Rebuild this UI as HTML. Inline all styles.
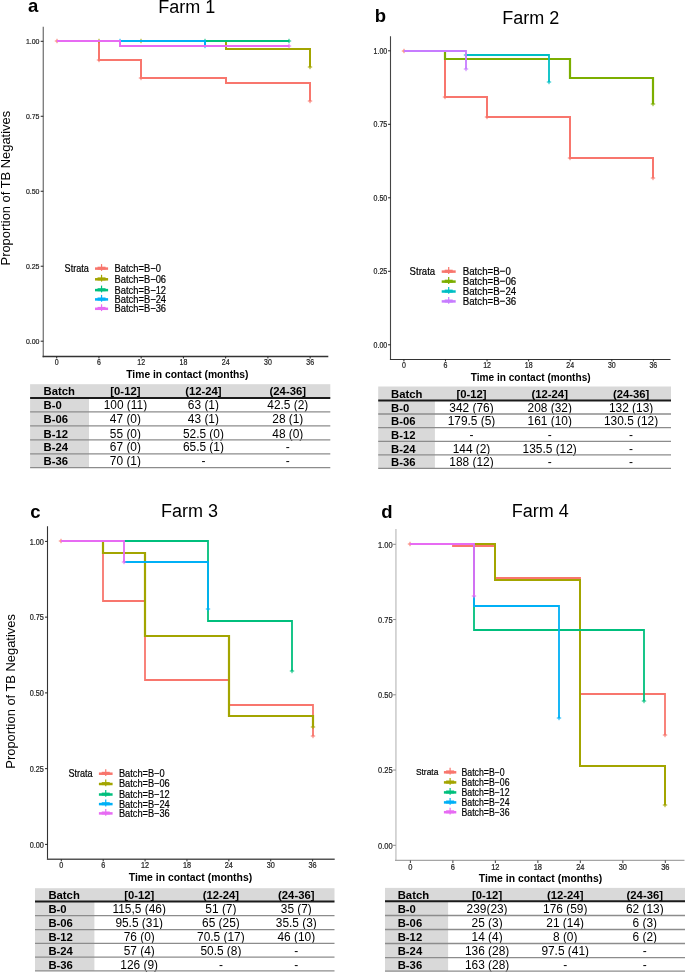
<!DOCTYPE html>
<html><head><meta charset="utf-8"><title>Figure</title>
<style>
html,body{margin:0;padding:0;background:#fff;}
body{width:685px;height:972px;overflow:hidden;}
svg{display:block;font-family:"Liberation Sans", sans-serif;will-change:transform;}
</style></head><body>
<svg width="685" height="972" viewBox="0 0 685 972">
<rect width="685" height="972" fill="#fff"/>
<text x="28" y="12.3" font-size="18.5" text-anchor="start" font-weight="bold" fill="#000">a</text>
<text x="186.7" y="12.8" font-size="18" text-anchor="middle" font-weight="normal" fill="#000">Farm 1</text>
<line x1="43.3" y1="26.7" x2="43.3" y2="357.15" stroke="#808080" stroke-width="1.4"/>
<line x1="42.6" y1="356.5" x2="328.3" y2="356.5" stroke="#333" stroke-width="1.3"/>
<line x1="40.7" y1="41.3" x2="43.3" y2="41.3" stroke="#222" stroke-width="1"/>
<text transform="translate(39.5 44.06) scale(1 1.1)" font-size="7" text-anchor="end" font-weight="normal" fill="#333" stroke="currentColor" stroke-width="0.18">1.00</text>
<line x1="40.7" y1="116.27" x2="43.3" y2="116.27" stroke="#222" stroke-width="1"/>
<text transform="translate(39.5 119.03) scale(1 1.1)" font-size="7" text-anchor="end" font-weight="normal" fill="#333" stroke="currentColor" stroke-width="0.18">0.75</text>
<line x1="40.7" y1="191.25" x2="43.3" y2="191.25" stroke="#222" stroke-width="1"/>
<text transform="translate(39.5 194.01) scale(1 1.1)" font-size="7" text-anchor="end" font-weight="normal" fill="#333" stroke="currentColor" stroke-width="0.18">0.50</text>
<line x1="40.7" y1="266.22" x2="43.3" y2="266.22" stroke="#222" stroke-width="1"/>
<text transform="translate(39.5 268.98) scale(1 1.1)" font-size="7" text-anchor="end" font-weight="normal" fill="#333" stroke="currentColor" stroke-width="0.18">0.25</text>
<line x1="40.7" y1="341.2" x2="43.3" y2="341.2" stroke="#222" stroke-width="1"/>
<text transform="translate(39.5 343.96) scale(1 1.1)" font-size="7" text-anchor="end" font-weight="normal" fill="#333" stroke="currentColor" stroke-width="0.18">0.00</text>
<line x1="56.7" y1="356.5" x2="56.7" y2="358.45" stroke="#222" stroke-width="1"/>
<text transform="translate(56.7 365) scale(1 1.22)" font-size="7" text-anchor="middle" font-weight="normal" fill="#333" stroke="currentColor" stroke-width="0.18">0</text>
<line x1="98.94" y1="356.5" x2="98.94" y2="358.45" stroke="#222" stroke-width="1"/>
<text transform="translate(98.94 365) scale(1 1.22)" font-size="7" text-anchor="middle" font-weight="normal" fill="#333" stroke="currentColor" stroke-width="0.18">6</text>
<line x1="141.18" y1="356.5" x2="141.18" y2="358.45" stroke="#222" stroke-width="1"/>
<text transform="translate(141.18 365) scale(1 1.22)" font-size="7" text-anchor="middle" font-weight="normal" fill="#333" stroke="currentColor" stroke-width="0.18">12</text>
<line x1="183.42" y1="356.5" x2="183.42" y2="358.45" stroke="#222" stroke-width="1"/>
<text transform="translate(183.42 365) scale(1 1.22)" font-size="7" text-anchor="middle" font-weight="normal" fill="#333" stroke="currentColor" stroke-width="0.18">18</text>
<line x1="225.66" y1="356.5" x2="225.66" y2="358.45" stroke="#222" stroke-width="1"/>
<text transform="translate(225.66 365) scale(1 1.22)" font-size="7" text-anchor="middle" font-weight="normal" fill="#333" stroke="currentColor" stroke-width="0.18">24</text>
<line x1="267.9" y1="356.5" x2="267.9" y2="358.45" stroke="#222" stroke-width="1"/>
<text transform="translate(267.9 365) scale(1 1.22)" font-size="7" text-anchor="middle" font-weight="normal" fill="#333" stroke="currentColor" stroke-width="0.18">30</text>
<line x1="310.14" y1="356.5" x2="310.14" y2="358.45" stroke="#222" stroke-width="1"/>
<text transform="translate(310.14 365) scale(1 1.22)" font-size="7" text-anchor="middle" font-weight="normal" fill="#333" stroke="currentColor" stroke-width="0.18">36</text>
<text x="187.4" y="378.2" font-size="10.3" text-anchor="middle" font-weight="bold" fill="#000">Time in contact (months)</text>
<text x="9.6" y="188.2" font-size="12.9" text-anchor="middle" font-weight="normal" fill="#000" transform="rotate(-90 9.6 188.2)">Proportion of TB Negatives</text>
<path d="M57 41H99V60H141V78H226V83H310V101" stroke="#F8766D" stroke-width="2" fill="none" stroke-linejoin="miter"/>
<path d="M54.8 41h4.4M57 38.8v4.4" stroke="#F8766D" stroke-width="1" fill="none"/>
<path d="M96.8 60h4.4M99 57.8v4.4" stroke="#F8766D" stroke-width="1" fill="none"/>
<path d="M138.8 78h4.4M141 75.8v4.4" stroke="#F8766D" stroke-width="1" fill="none"/>
<path d="M307.8 101h4.4M310 98.8v4.4" stroke="#F8766D" stroke-width="1" fill="none"/>
<path d="M99 41H226V49H310V67" stroke="#A3A500" stroke-width="2" fill="none" stroke-linejoin="miter"/>
<path d="M96.8 41h4.4M99 38.8v4.4" stroke="#A3A500" stroke-width="1" fill="none"/>
<path d="M138.8 41h4.4M141 38.8v4.4" stroke="#A3A500" stroke-width="1" fill="none"/>
<path d="M307.8 67h4.4M310 64.8v4.4" stroke="#A3A500" stroke-width="1" fill="none"/>
<path d="M120 41H289" stroke="#00BF7D" stroke-width="2" fill="none" stroke-linejoin="miter"/>
<path d="M202.8 41h4.4M205 38.8v4.4" stroke="#00BF7D" stroke-width="1" fill="none"/>
<path d="M286.8 41h4.4M289 38.8v4.4" stroke="#00BF7D" stroke-width="1" fill="none"/>
<path d="M120 41H205H205V46" stroke="#00B0F6" stroke-width="2" fill="none" stroke-linejoin="miter"/>
<path d="M117.8 41h4.4M120 38.8v4.4" stroke="#00B0F6" stroke-width="1" fill="none"/>
<path d="M202.8 46h4.4M205 43.8v4.4" stroke="#00B0F6" stroke-width="1" fill="none"/>
<path d="M57 41H120V46H289" stroke="#E76BF3" stroke-width="2" fill="none" stroke-linejoin="miter"/>
<path d="M286.8 46h4.4M289 43.8v4.4" stroke="#E76BF3" stroke-width="1" fill="none"/>
<text transform="translate(64.6 271.6) scale(1 1.13)" font-size="9.1" text-anchor="start" font-weight="normal" fill="#000" stroke="currentColor" stroke-width="0.18">Strata</text>
<line x1="95" y1="268.6" x2="108.1" y2="268.6" stroke="#F8766D" stroke-width="2.5"/>
<line x1="97.55" y1="268.2" x2="105.55" y2="268.2" stroke="#F8766D" stroke-width="3"/>
<line x1="101.55" y1="264.1" x2="101.55" y2="270.9" stroke="#F8766D" stroke-width="1.2"/>
<text transform="translate(114.6 272) scale(1 1.13)" font-size="9.35" text-anchor="start" font-weight="normal" fill="#000" stroke="currentColor" stroke-width="0.18">Batch=B−0</text>
<line x1="95" y1="279.3" x2="108.1" y2="279.3" stroke="#A3A500" stroke-width="2.5"/>
<line x1="97.55" y1="278.9" x2="105.55" y2="278.9" stroke="#A3A500" stroke-width="3"/>
<line x1="101.55" y1="274.8" x2="101.55" y2="281.6" stroke="#A3A500" stroke-width="1.2"/>
<text transform="translate(114.6 282.7) scale(1 1.13)" font-size="9.35" text-anchor="start" font-weight="normal" fill="#000" stroke="currentColor" stroke-width="0.18">Batch=B−06</text>
<line x1="95" y1="290.1" x2="108.1" y2="290.1" stroke="#00BF7D" stroke-width="2.5"/>
<line x1="97.55" y1="289.7" x2="105.55" y2="289.7" stroke="#00BF7D" stroke-width="3"/>
<line x1="101.55" y1="285.6" x2="101.55" y2="292.4" stroke="#00BF7D" stroke-width="1.2"/>
<text transform="translate(114.6 293.5) scale(1 1.13)" font-size="9.35" text-anchor="start" font-weight="normal" fill="#000" stroke="currentColor" stroke-width="0.18">Batch=B−12</text>
<line x1="95" y1="299.4" x2="108.1" y2="299.4" stroke="#00B0F6" stroke-width="2.5"/>
<line x1="97.55" y1="299" x2="105.55" y2="299" stroke="#00B0F6" stroke-width="3"/>
<line x1="101.55" y1="294.9" x2="101.55" y2="301.7" stroke="#00B0F6" stroke-width="1.2"/>
<text transform="translate(114.6 302.8) scale(1 1.13)" font-size="9.35" text-anchor="start" font-weight="normal" fill="#000" stroke="currentColor" stroke-width="0.18">Batch=B−24</text>
<line x1="95" y1="308.8" x2="108.1" y2="308.8" stroke="#E76BF3" stroke-width="2.5"/>
<line x1="97.55" y1="308.4" x2="105.55" y2="308.4" stroke="#E76BF3" stroke-width="3"/>
<line x1="101.55" y1="304.3" x2="101.55" y2="311.1" stroke="#E76BF3" stroke-width="1.2"/>
<text transform="translate(114.6 312.2) scale(1 1.13)" font-size="9.35" text-anchor="start" font-weight="normal" fill="#000" stroke="currentColor" stroke-width="0.18">Batch=B−36</text>
<rect x="30.1" y="384.2" width="300.2" height="13.7" fill="#d9d9d9"/>
<rect x="30.1" y="397.9" width="58.9" height="69.7" fill="#d9d9d9"/>
<text x="43.6" y="395.35" font-size="11.3" text-anchor="start" font-weight="bold" fill="#000">Batch</text>
<text x="125.4" y="395.35" font-size="11.3" text-anchor="middle" font-weight="bold" fill="#000">[0-12]</text>
<text x="203.4" y="395.35" font-size="11.3" text-anchor="middle" font-weight="bold" fill="#000">(12-24]</text>
<text x="287.8" y="395.35" font-size="11.3" text-anchor="middle" font-weight="bold" fill="#000">(24-36]</text>
<text x="43.6" y="409.45" font-size="11.3" text-anchor="start" font-weight="bold" fill="#000">B-0</text>
<text x="125.4" y="409.45" font-size="11.9" text-anchor="middle" font-weight="normal" fill="#000">100 (11)</text>
<text x="203.4" y="409.45" font-size="11.9" text-anchor="middle" font-weight="normal" fill="#000">63 (1)</text>
<text x="287.8" y="409.45" font-size="11.9" text-anchor="middle" font-weight="normal" fill="#000">42.5 (2)</text>
<text x="43.6" y="423.45" font-size="11.3" text-anchor="start" font-weight="bold" fill="#000">B-06</text>
<text x="125.4" y="423.45" font-size="11.9" text-anchor="middle" font-weight="normal" fill="#000">47 (0)</text>
<text x="203.4" y="423.45" font-size="11.9" text-anchor="middle" font-weight="normal" fill="#000">43 (1)</text>
<text x="287.8" y="423.45" font-size="11.9" text-anchor="middle" font-weight="normal" fill="#000">28 (1)</text>
<text x="43.6" y="437.5" font-size="11.3" text-anchor="start" font-weight="bold" fill="#000">B-12</text>
<text x="125.4" y="437.5" font-size="11.9" text-anchor="middle" font-weight="normal" fill="#000">55 (0)</text>
<text x="203.4" y="437.5" font-size="11.9" text-anchor="middle" font-weight="normal" fill="#000">52.5 (0)</text>
<text x="287.8" y="437.5" font-size="11.9" text-anchor="middle" font-weight="normal" fill="#000">48 (0)</text>
<text x="43.6" y="451.45" font-size="11.3" text-anchor="start" font-weight="bold" fill="#000">B-24</text>
<text x="125.4" y="451.45" font-size="11.9" text-anchor="middle" font-weight="normal" fill="#000">67 (0)</text>
<text x="203.4" y="451.45" font-size="11.9" text-anchor="middle" font-weight="normal" fill="#000">65.5 (1)</text>
<text x="287.8" y="451.45" font-size="11.9" text-anchor="middle" font-weight="normal" fill="#000">-</text>
<text x="43.6" y="465.3" font-size="11.3" text-anchor="start" font-weight="bold" fill="#000">B-36</text>
<text x="125.4" y="465.3" font-size="11.9" text-anchor="middle" font-weight="normal" fill="#000">70 (1)</text>
<text x="203.4" y="465.3" font-size="11.9" text-anchor="middle" font-weight="normal" fill="#000">-</text>
<text x="287.8" y="465.3" font-size="11.9" text-anchor="middle" font-weight="normal" fill="#000">-</text>
<line x1="30.1" y1="411.8" x2="330.3" y2="411.8" stroke="#8c8c8c" stroke-width="1.3"/>
<line x1="30.1" y1="425.9" x2="330.3" y2="425.9" stroke="#8c8c8c" stroke-width="1.3"/>
<line x1="30.1" y1="439.9" x2="330.3" y2="439.9" stroke="#8c8c8c" stroke-width="1.3"/>
<line x1="30.1" y1="453.8" x2="330.3" y2="453.8" stroke="#8c8c8c" stroke-width="1.3"/>
<line x1="30.1" y1="467.6" x2="330.3" y2="467.6" stroke="#8c8c8c" stroke-width="1.3"/>
<line x1="30.1" y1="397.9" x2="330.3" y2="397.9" stroke="#1a1a1a" stroke-width="2"/>
<text x="374.8" y="22.2" font-size="18.5" text-anchor="start" font-weight="bold" fill="#000">b</text>
<text x="530.8" y="23.6" font-size="18" text-anchor="middle" font-weight="normal" fill="#000">Farm 2</text>
<line x1="390.5" y1="36.2" x2="390.5" y2="360.1" stroke="#444" stroke-width="1.1"/>
<line x1="389.95" y1="359.5" x2="670.5" y2="359.5" stroke="#333" stroke-width="1.2"/>
<line x1="388.05" y1="50.8" x2="390.5" y2="50.8" stroke="#222" stroke-width="1"/>
<text transform="translate(387.2 53.86) scale(1 1.22)" font-size="7" text-anchor="end" font-weight="normal" fill="#333" stroke="currentColor" stroke-width="0.18">1.00</text>
<line x1="388.05" y1="124.3" x2="390.5" y2="124.3" stroke="#222" stroke-width="1"/>
<text transform="translate(387.2 127.36) scale(1 1.22)" font-size="7" text-anchor="end" font-weight="normal" fill="#333" stroke="currentColor" stroke-width="0.18">0.75</text>
<line x1="388.05" y1="197.8" x2="390.5" y2="197.8" stroke="#222" stroke-width="1"/>
<text transform="translate(387.2 200.86) scale(1 1.22)" font-size="7" text-anchor="end" font-weight="normal" fill="#333" stroke="currentColor" stroke-width="0.18">0.50</text>
<line x1="388.05" y1="271.3" x2="390.5" y2="271.3" stroke="#222" stroke-width="1"/>
<text transform="translate(387.2 274.36) scale(1 1.22)" font-size="7" text-anchor="end" font-weight="normal" fill="#333" stroke="currentColor" stroke-width="0.18">0.25</text>
<line x1="388.05" y1="344.8" x2="390.5" y2="344.8" stroke="#222" stroke-width="1"/>
<text transform="translate(387.2 347.86) scale(1 1.22)" font-size="7" text-anchor="end" font-weight="normal" fill="#333" stroke="currentColor" stroke-width="0.18">0.00</text>
<line x1="403.9" y1="359.5" x2="403.9" y2="361.4" stroke="#222" stroke-width="1"/>
<text transform="translate(403.9 368.2) scale(1 1.22)" font-size="7" text-anchor="middle" font-weight="normal" fill="#333" stroke="currentColor" stroke-width="0.18">0</text>
<line x1="445.48" y1="359.5" x2="445.48" y2="361.4" stroke="#222" stroke-width="1"/>
<text transform="translate(445.48 368.2) scale(1 1.22)" font-size="7" text-anchor="middle" font-weight="normal" fill="#333" stroke="currentColor" stroke-width="0.18">6</text>
<line x1="487.06" y1="359.5" x2="487.06" y2="361.4" stroke="#222" stroke-width="1"/>
<text transform="translate(487.06 368.2) scale(1 1.22)" font-size="7" text-anchor="middle" font-weight="normal" fill="#333" stroke="currentColor" stroke-width="0.18">12</text>
<line x1="528.64" y1="359.5" x2="528.64" y2="361.4" stroke="#222" stroke-width="1"/>
<text transform="translate(528.64 368.2) scale(1 1.22)" font-size="7" text-anchor="middle" font-weight="normal" fill="#333" stroke="currentColor" stroke-width="0.18">18</text>
<line x1="570.22" y1="359.5" x2="570.22" y2="361.4" stroke="#222" stroke-width="1"/>
<text transform="translate(570.22 368.2) scale(1 1.22)" font-size="7" text-anchor="middle" font-weight="normal" fill="#333" stroke="currentColor" stroke-width="0.18">24</text>
<line x1="611.8" y1="359.5" x2="611.8" y2="361.4" stroke="#222" stroke-width="1"/>
<text transform="translate(611.8 368.2) scale(1 1.22)" font-size="7" text-anchor="middle" font-weight="normal" fill="#333" stroke="currentColor" stroke-width="0.18">30</text>
<line x1="653.38" y1="359.5" x2="653.38" y2="361.4" stroke="#222" stroke-width="1"/>
<text transform="translate(653.38 368.2) scale(1 1.22)" font-size="7" text-anchor="middle" font-weight="normal" fill="#333" stroke="currentColor" stroke-width="0.18">36</text>
<text x="530.7" y="381.3" font-size="10.1" text-anchor="middle" font-weight="bold" fill="#000">Time in contact (months)</text>
<path d="M404 51H445V97H487V117H570V158H653V178" stroke="#F8766D" stroke-width="2" fill="none" stroke-linejoin="miter"/>
<path d="M401.8 51h4.4M404 48.8v4.4" stroke="#F8766D" stroke-width="1" fill="none"/>
<path d="M442.8 97h4.4M445 94.8v4.4" stroke="#F8766D" stroke-width="1" fill="none"/>
<path d="M484.8 117h4.4M487 114.8v4.4" stroke="#F8766D" stroke-width="1" fill="none"/>
<path d="M567.8 158h4.4M570 155.8v4.4" stroke="#F8766D" stroke-width="1" fill="none"/>
<path d="M650.8 178h4.4M653 175.8v4.4" stroke="#F8766D" stroke-width="1" fill="none"/>
<path d="M445 51H445V59H570V78H653V104" stroke="#7CAE00" stroke-width="2.2" fill="none" stroke-linejoin="miter"/>
<path d="M650.8 104h4.4M653 101.8v4.4" stroke="#7CAE00" stroke-width="1" fill="none"/>
<path d="M466 55H549H549V82" stroke="#00BFC4" stroke-width="1.8" fill="none" stroke-linejoin="miter"/>
<path d="M463.8 55h4.4M466 52.8v4.4" stroke="#00BFC4" stroke-width="1" fill="none"/>
<path d="M546.8 82h4.4M549 79.8v4.4" stroke="#00BFC4" stroke-width="1" fill="none"/>
<path d="M404 51H466H466V69" stroke="#C77CFF" stroke-width="1.8" fill="none" stroke-linejoin="miter"/>
<path d="M463.8 69h4.4M466 66.8v4.4" stroke="#C77CFF" stroke-width="1" fill="none"/>
<text transform="translate(409.6 275.1) scale(1 1.2)" font-size="9.6" text-anchor="start" font-weight="normal" fill="#000" stroke="currentColor" stroke-width="0.18">Strata</text>
<line x1="441.7" y1="271.6" x2="455.7" y2="271.6" stroke="#F8766D" stroke-width="2.5"/>
<line x1="444.7" y1="271.2" x2="452.7" y2="271.2" stroke="#F8766D" stroke-width="3"/>
<line x1="448.7" y1="267.1" x2="448.7" y2="273.9" stroke="#F8766D" stroke-width="1.2"/>
<text transform="translate(462.7 275) scale(1 1.2)" font-size="9.75" text-anchor="start" font-weight="normal" fill="#000" stroke="currentColor" stroke-width="0.18">Batch=B−0</text>
<line x1="441.7" y1="281.6" x2="455.7" y2="281.6" stroke="#7CAE00" stroke-width="2.5"/>
<line x1="444.7" y1="281.2" x2="452.7" y2="281.2" stroke="#7CAE00" stroke-width="3"/>
<line x1="448.7" y1="277.1" x2="448.7" y2="283.9" stroke="#7CAE00" stroke-width="1.2"/>
<text transform="translate(462.7 285) scale(1 1.2)" font-size="9.75" text-anchor="start" font-weight="normal" fill="#000" stroke="currentColor" stroke-width="0.18">Batch=B−06</text>
<line x1="441.7" y1="291.5" x2="455.7" y2="291.5" stroke="#00BFC4" stroke-width="2.5"/>
<line x1="444.7" y1="291.1" x2="452.7" y2="291.1" stroke="#00BFC4" stroke-width="3"/>
<line x1="448.7" y1="287" x2="448.7" y2="293.8" stroke="#00BFC4" stroke-width="1.2"/>
<text transform="translate(462.7 294.9) scale(1 1.2)" font-size="9.75" text-anchor="start" font-weight="normal" fill="#000" stroke="currentColor" stroke-width="0.18">Batch=B−24</text>
<line x1="441.7" y1="301.4" x2="455.7" y2="301.4" stroke="#C77CFF" stroke-width="2.5"/>
<line x1="444.7" y1="301" x2="452.7" y2="301" stroke="#C77CFF" stroke-width="3"/>
<line x1="448.7" y1="296.9" x2="448.7" y2="303.7" stroke="#C77CFF" stroke-width="1.2"/>
<text transform="translate(462.7 304.8) scale(1 1.2)" font-size="9.75" text-anchor="start" font-weight="normal" fill="#000" stroke="currentColor" stroke-width="0.18">Batch=B−36</text>
<rect x="378.2" y="386.5" width="292.8" height="13.9" fill="#d9d9d9"/>
<rect x="378.2" y="400.4" width="56.7" height="68" fill="#d9d9d9"/>
<text x="391" y="397.75" font-size="11.3" text-anchor="start" font-weight="bold" fill="#000">Batch</text>
<text x="471.5" y="397.75" font-size="11.3" text-anchor="middle" font-weight="bold" fill="#000">[0-12]</text>
<text x="549.7" y="397.75" font-size="11.3" text-anchor="middle" font-weight="bold" fill="#000">(12-24]</text>
<text x="631.1" y="397.75" font-size="11.3" text-anchor="middle" font-weight="bold" fill="#000">(24-36]</text>
<text x="391" y="411.8" font-size="11.3" text-anchor="start" font-weight="bold" fill="#000">B-0</text>
<text x="471.5" y="411.8" font-size="11.9" text-anchor="middle" font-weight="normal" fill="#000">342 (76)</text>
<text x="549.7" y="411.8" font-size="11.9" text-anchor="middle" font-weight="normal" fill="#000">208 (32)</text>
<text x="631.1" y="411.8" font-size="11.9" text-anchor="middle" font-weight="normal" fill="#000">132 (13)</text>
<text x="391" y="425.4" font-size="11.3" text-anchor="start" font-weight="bold" fill="#000">B-06</text>
<text x="471.5" y="425.4" font-size="11.9" text-anchor="middle" font-weight="normal" fill="#000">179.5 (5)</text>
<text x="549.7" y="425.4" font-size="11.9" text-anchor="middle" font-weight="normal" fill="#000">161 (10)</text>
<text x="631.1" y="425.4" font-size="11.9" text-anchor="middle" font-weight="normal" fill="#000">130.5 (12)</text>
<text x="391" y="439.05" font-size="11.3" text-anchor="start" font-weight="bold" fill="#000">B-12</text>
<text x="471.5" y="439.05" font-size="11.9" text-anchor="middle" font-weight="normal" fill="#000">-</text>
<text x="549.7" y="439.05" font-size="11.9" text-anchor="middle" font-weight="normal" fill="#000">-</text>
<text x="631.1" y="439.05" font-size="11.9" text-anchor="middle" font-weight="normal" fill="#000">-</text>
<text x="391" y="452.7" font-size="11.3" text-anchor="start" font-weight="bold" fill="#000">B-24</text>
<text x="471.5" y="452.7" font-size="11.9" text-anchor="middle" font-weight="normal" fill="#000">144 (2)</text>
<text x="549.7" y="452.7" font-size="11.9" text-anchor="middle" font-weight="normal" fill="#000">135.5 (12)</text>
<text x="631.1" y="452.7" font-size="11.9" text-anchor="middle" font-weight="normal" fill="#000">-</text>
<text x="391" y="466.25" font-size="11.3" text-anchor="start" font-weight="bold" fill="#000">B-36</text>
<text x="471.5" y="466.25" font-size="11.9" text-anchor="middle" font-weight="normal" fill="#000">188 (12)</text>
<text x="549.7" y="466.25" font-size="11.9" text-anchor="middle" font-weight="normal" fill="#000">-</text>
<text x="631.1" y="466.25" font-size="11.9" text-anchor="middle" font-weight="normal" fill="#000">-</text>
<line x1="378.2" y1="414" x2="671" y2="414" stroke="#8c8c8c" stroke-width="1.3"/>
<line x1="378.2" y1="427.6" x2="671" y2="427.6" stroke="#8c8c8c" stroke-width="1.3"/>
<line x1="378.2" y1="441.3" x2="671" y2="441.3" stroke="#8c8c8c" stroke-width="1.3"/>
<line x1="378.2" y1="454.9" x2="671" y2="454.9" stroke="#8c8c8c" stroke-width="1.3"/>
<line x1="378.2" y1="468.4" x2="671" y2="468.4" stroke="#8c8c8c" stroke-width="1.3"/>
<line x1="378.2" y1="400.4" x2="671" y2="400.4" stroke="#1a1a1a" stroke-width="2"/>
<text x="30.2" y="518" font-size="18.5" text-anchor="start" font-weight="bold" fill="#000">c</text>
<text x="189.5" y="516.6" font-size="18" text-anchor="middle" font-weight="normal" fill="#000">Farm 3</text>
<line x1="47.5" y1="526.2" x2="47.5" y2="860.05" stroke="#333" stroke-width="1.1"/>
<line x1="46.95" y1="859.3" x2="334.7" y2="859.3" stroke="#555" stroke-width="1.5"/>
<line x1="45.05" y1="541.4" x2="47.5" y2="541.4" stroke="#222" stroke-width="1"/>
<text transform="translate(43.9 544.54) scale(1 1.2)" font-size="7.3" text-anchor="end" font-weight="normal" fill="#333" stroke="currentColor" stroke-width="0.18">1.00</text>
<line x1="45.05" y1="617.15" x2="47.5" y2="617.15" stroke="#222" stroke-width="1"/>
<text transform="translate(43.9 620.29) scale(1 1.2)" font-size="7.3" text-anchor="end" font-weight="normal" fill="#333" stroke="currentColor" stroke-width="0.18">0.75</text>
<line x1="45.05" y1="692.9" x2="47.5" y2="692.9" stroke="#222" stroke-width="1"/>
<text transform="translate(43.9 696.04) scale(1 1.2)" font-size="7.3" text-anchor="end" font-weight="normal" fill="#333" stroke="currentColor" stroke-width="0.18">0.50</text>
<line x1="45.05" y1="768.65" x2="47.5" y2="768.65" stroke="#222" stroke-width="1"/>
<text transform="translate(43.9 771.79) scale(1 1.2)" font-size="7.3" text-anchor="end" font-weight="normal" fill="#333" stroke="currentColor" stroke-width="0.18">0.25</text>
<line x1="45.05" y1="844.4" x2="47.5" y2="844.4" stroke="#222" stroke-width="1"/>
<text transform="translate(43.9 847.54) scale(1 1.2)" font-size="7.3" text-anchor="end" font-weight="normal" fill="#333" stroke="currentColor" stroke-width="0.18">0.00</text>
<line x1="61.3" y1="859.3" x2="61.3" y2="861.35" stroke="#222" stroke-width="1"/>
<text transform="translate(61.3 868.3) scale(1 1.15)" font-size="7.3" text-anchor="middle" font-weight="normal" fill="#333" stroke="currentColor" stroke-width="0.18">0</text>
<line x1="103.19" y1="859.3" x2="103.19" y2="861.35" stroke="#222" stroke-width="1"/>
<text transform="translate(103.19 868.3) scale(1 1.15)" font-size="7.3" text-anchor="middle" font-weight="normal" fill="#333" stroke="currentColor" stroke-width="0.18">6</text>
<line x1="145.07" y1="859.3" x2="145.07" y2="861.35" stroke="#222" stroke-width="1"/>
<text transform="translate(145.07 868.3) scale(1 1.15)" font-size="7.3" text-anchor="middle" font-weight="normal" fill="#333" stroke="currentColor" stroke-width="0.18">12</text>
<line x1="186.96" y1="859.3" x2="186.96" y2="861.35" stroke="#222" stroke-width="1"/>
<text transform="translate(186.96 868.3) scale(1 1.15)" font-size="7.3" text-anchor="middle" font-weight="normal" fill="#333" stroke="currentColor" stroke-width="0.18">18</text>
<line x1="228.84" y1="859.3" x2="228.84" y2="861.35" stroke="#222" stroke-width="1"/>
<text transform="translate(228.84 868.3) scale(1 1.15)" font-size="7.3" text-anchor="middle" font-weight="normal" fill="#333" stroke="currentColor" stroke-width="0.18">24</text>
<line x1="270.73" y1="859.3" x2="270.73" y2="861.35" stroke="#222" stroke-width="1"/>
<text transform="translate(270.73 868.3) scale(1 1.15)" font-size="7.3" text-anchor="middle" font-weight="normal" fill="#333" stroke="currentColor" stroke-width="0.18">30</text>
<line x1="312.62" y1="859.3" x2="312.62" y2="861.35" stroke="#222" stroke-width="1"/>
<text transform="translate(312.62 868.3) scale(1 1.15)" font-size="7.3" text-anchor="middle" font-weight="normal" fill="#333" stroke="currentColor" stroke-width="0.18">36</text>
<text x="190.5" y="880.8" font-size="10.4" text-anchor="middle" font-weight="bold" fill="#000">Time in contact (months)</text>
<text x="14.6" y="691.4" font-size="12.9" text-anchor="middle" font-weight="normal" fill="#000" transform="rotate(-90 14.6 691.4)">Proportion of TB Negatives</text>
<path d="M61 541H103V601H145V680H229V705H313V736" stroke="#F8766D" stroke-width="1.8" fill="none" stroke-linejoin="miter"/>
<path d="M58.8 541h4.4M61 538.8v4.4" stroke="#F8766D" stroke-width="1" fill="none"/>
<path d="M310.8 736h4.4M313 733.8v4.4" stroke="#F8766D" stroke-width="1" fill="none"/>
<path d="M103 541H103V553H145V636H229V716H313V727" stroke="#A3A500" stroke-width="2.2" fill="none" stroke-linejoin="miter"/>
<path d="M310.8 727h4.4M313 724.8v4.4" stroke="#A3A500" stroke-width="1" fill="none"/>
<path d="M124 541H208V621H292V671" stroke="#00BF7D" stroke-width="1.8" fill="none" stroke-linejoin="miter"/>
<path d="M289.8 671h4.4M292 668.8v4.4" stroke="#00BF7D" stroke-width="1" fill="none"/>
<path d="M124 562H208H208V609" stroke="#00B0F6" stroke-width="1.8" fill="none" stroke-linejoin="miter"/>
<path d="M205.8 609h4.4M208 606.8v4.4" stroke="#00B0F6" stroke-width="1" fill="none"/>
<path d="M61 541H124H124V562" stroke="#E76BF3" stroke-width="1.8" fill="none" stroke-linejoin="miter"/>
<path d="M121.8 562h4.4M124 559.8v4.4" stroke="#E76BF3" stroke-width="1" fill="none"/>
<text transform="translate(68.4 777) scale(1 1.19)" font-size="9.1" text-anchor="start" font-weight="normal" fill="#000" stroke="currentColor" stroke-width="0.18">Strata</text>
<line x1="98.9" y1="773.7" x2="112.6" y2="773.7" stroke="#F8766D" stroke-width="2.5"/>
<line x1="101.75" y1="773.3" x2="109.75" y2="773.3" stroke="#F8766D" stroke-width="3"/>
<line x1="105.75" y1="769.2" x2="105.75" y2="776" stroke="#F8766D" stroke-width="1.2"/>
<text transform="translate(118.9 777.1) scale(1 1.19)" font-size="9.25" text-anchor="start" font-weight="normal" fill="#000" stroke="currentColor" stroke-width="0.18">Batch=B−0</text>
<line x1="98.9" y1="784" x2="112.6" y2="784" stroke="#A3A500" stroke-width="2.5"/>
<line x1="101.75" y1="783.6" x2="109.75" y2="783.6" stroke="#A3A500" stroke-width="3"/>
<line x1="105.75" y1="779.5" x2="105.75" y2="786.3" stroke="#A3A500" stroke-width="1.2"/>
<text transform="translate(118.9 787.4) scale(1 1.19)" font-size="9.25" text-anchor="start" font-weight="normal" fill="#000" stroke="currentColor" stroke-width="0.18">Batch=B−06</text>
<line x1="98.9" y1="794.5" x2="112.6" y2="794.5" stroke="#00BF7D" stroke-width="2.5"/>
<line x1="101.75" y1="794.1" x2="109.75" y2="794.1" stroke="#00BF7D" stroke-width="3"/>
<line x1="105.75" y1="790" x2="105.75" y2="796.8" stroke="#00BF7D" stroke-width="1.2"/>
<text transform="translate(118.9 797.9) scale(1 1.19)" font-size="9.25" text-anchor="start" font-weight="normal" fill="#000" stroke="currentColor" stroke-width="0.18">Batch=B−12</text>
<line x1="98.9" y1="804.1" x2="112.6" y2="804.1" stroke="#00B0F6" stroke-width="2.5"/>
<line x1="101.75" y1="803.7" x2="109.75" y2="803.7" stroke="#00B0F6" stroke-width="3"/>
<line x1="105.75" y1="799.6" x2="105.75" y2="806.4" stroke="#00B0F6" stroke-width="1.2"/>
<text transform="translate(118.9 807.5) scale(1 1.19)" font-size="9.25" text-anchor="start" font-weight="normal" fill="#000" stroke="currentColor" stroke-width="0.18">Batch=B−24</text>
<line x1="98.9" y1="813.4" x2="112.6" y2="813.4" stroke="#E76BF3" stroke-width="2.5"/>
<line x1="101.75" y1="813" x2="109.75" y2="813" stroke="#E76BF3" stroke-width="3"/>
<line x1="105.75" y1="808.9" x2="105.75" y2="815.7" stroke="#E76BF3" stroke-width="1.2"/>
<text transform="translate(118.9 816.8) scale(1 1.19)" font-size="9.25" text-anchor="start" font-weight="normal" fill="#000" stroke="currentColor" stroke-width="0.18">Batch=B−36</text>
<rect x="35" y="888.2" width="299.5" height="13.4" fill="#d9d9d9"/>
<rect x="35" y="901.6" width="59.4" height="69.2" fill="#d9d9d9"/>
<text x="48.4" y="899.2" font-size="11.3" text-anchor="start" font-weight="bold" fill="#000">Batch</text>
<text x="139.2" y="899.2" font-size="11.3" text-anchor="middle" font-weight="bold" fill="#000">[0-12]</text>
<text x="220.9" y="899.2" font-size="11.3" text-anchor="middle" font-weight="bold" fill="#000">(12-24]</text>
<text x="296.3" y="899.2" font-size="11.3" text-anchor="middle" font-weight="bold" fill="#000">(24-36]</text>
<text x="48.4" y="913.2" font-size="11.3" text-anchor="start" font-weight="bold" fill="#000">B-0</text>
<text x="139.2" y="913.2" font-size="11.9" text-anchor="middle" font-weight="normal" fill="#000">115,5 (46)</text>
<text x="220.9" y="913.2" font-size="11.9" text-anchor="middle" font-weight="normal" fill="#000">51 (7)</text>
<text x="296.3" y="913.2" font-size="11.9" text-anchor="middle" font-weight="normal" fill="#000">35 (7)</text>
<text x="48.4" y="927.2" font-size="11.3" text-anchor="start" font-weight="bold" fill="#000">B-06</text>
<text x="139.2" y="927.2" font-size="11.9" text-anchor="middle" font-weight="normal" fill="#000">95.5 (31)</text>
<text x="220.9" y="927.2" font-size="11.9" text-anchor="middle" font-weight="normal" fill="#000">65 (25)</text>
<text x="296.3" y="927.2" font-size="11.9" text-anchor="middle" font-weight="normal" fill="#000">35.5 (3)</text>
<text x="48.4" y="941.05" font-size="11.3" text-anchor="start" font-weight="bold" fill="#000">B-12</text>
<text x="139.2" y="941.05" font-size="11.9" text-anchor="middle" font-weight="normal" fill="#000">76 (0)</text>
<text x="220.9" y="941.05" font-size="11.9" text-anchor="middle" font-weight="normal" fill="#000">70.5 (17)</text>
<text x="296.3" y="941.05" font-size="11.9" text-anchor="middle" font-weight="normal" fill="#000">46 (10)</text>
<text x="48.4" y="954.85" font-size="11.3" text-anchor="start" font-weight="bold" fill="#000">B-24</text>
<text x="139.2" y="954.85" font-size="11.9" text-anchor="middle" font-weight="normal" fill="#000">57 (4)</text>
<text x="220.9" y="954.85" font-size="11.9" text-anchor="middle" font-weight="normal" fill="#000">50.5 (8)</text>
<text x="296.3" y="954.85" font-size="11.9" text-anchor="middle" font-weight="normal" fill="#000">-</text>
<text x="48.4" y="968.6" font-size="11.3" text-anchor="start" font-weight="bold" fill="#000">B-36</text>
<text x="139.2" y="968.6" font-size="11.9" text-anchor="middle" font-weight="normal" fill="#000">126 (9)</text>
<text x="220.9" y="968.6" font-size="11.9" text-anchor="middle" font-weight="normal" fill="#000">-</text>
<text x="296.3" y="968.6" font-size="11.9" text-anchor="middle" font-weight="normal" fill="#000">-</text>
<line x1="35" y1="915.6" x2="334.5" y2="915.6" stroke="#8c8c8c" stroke-width="1.3"/>
<line x1="35" y1="929.6" x2="334.5" y2="929.6" stroke="#8c8c8c" stroke-width="1.3"/>
<line x1="35" y1="943.3" x2="334.5" y2="943.3" stroke="#8c8c8c" stroke-width="1.3"/>
<line x1="35" y1="957.2" x2="334.5" y2="957.2" stroke="#8c8c8c" stroke-width="1.3"/>
<line x1="35" y1="970.8" x2="334.5" y2="970.8" stroke="#8c8c8c" stroke-width="1.3"/>
<line x1="35" y1="901.6" x2="334.5" y2="901.6" stroke="#1a1a1a" stroke-width="2"/>
<text x="381.2" y="517.7" font-size="18.5" text-anchor="start" font-weight="bold" fill="#000">d</text>
<text x="540.2" y="516.6" font-size="18" text-anchor="middle" font-weight="normal" fill="#000">Farm 4</text>
<line x1="395.9" y1="529.1" x2="395.9" y2="861.05" stroke="#d2d2d2" stroke-width="1.8"/>
<line x1="395" y1="860.4" x2="684.5" y2="860.4" stroke="#a5a5a5" stroke-width="1.3"/>
<line x1="393.1" y1="544.3" x2="395.9" y2="544.3" stroke="#8a8a8a" stroke-width="1"/>
<text transform="translate(392.6 547.58) scale(1 1.22)" font-size="7.5" text-anchor="end" font-weight="normal" fill="#333" stroke="currentColor" stroke-width="0.18">1.00</text>
<line x1="393.1" y1="619.55" x2="395.9" y2="619.55" stroke="#8a8a8a" stroke-width="1"/>
<text transform="translate(392.6 622.83) scale(1 1.22)" font-size="7.5" text-anchor="end" font-weight="normal" fill="#333" stroke="currentColor" stroke-width="0.18">0.75</text>
<line x1="393.1" y1="694.8" x2="395.9" y2="694.8" stroke="#8a8a8a" stroke-width="1"/>
<text transform="translate(392.6 698.08) scale(1 1.22)" font-size="7.5" text-anchor="end" font-weight="normal" fill="#333" stroke="currentColor" stroke-width="0.18">0.50</text>
<line x1="393.1" y1="770.05" x2="395.9" y2="770.05" stroke="#8a8a8a" stroke-width="1"/>
<text transform="translate(392.6 773.33) scale(1 1.22)" font-size="7.5" text-anchor="end" font-weight="normal" fill="#333" stroke="currentColor" stroke-width="0.18">0.25</text>
<line x1="393.1" y1="845.3" x2="395.9" y2="845.3" stroke="#8a8a8a" stroke-width="1"/>
<text transform="translate(392.6 848.58) scale(1 1.22)" font-size="7.5" text-anchor="end" font-weight="normal" fill="#333" stroke="currentColor" stroke-width="0.18">0.00</text>
<line x1="410.4" y1="860.4" x2="410.4" y2="863.05" stroke="#444" stroke-width="1"/>
<text transform="translate(410.4 870.2) scale(1 1.22)" font-size="7.5" text-anchor="middle" font-weight="normal" fill="#333" stroke="currentColor" stroke-width="0.18">0</text>
<line x1="452.89" y1="860.4" x2="452.89" y2="863.05" stroke="#444" stroke-width="1"/>
<text transform="translate(452.89 870.2) scale(1 1.22)" font-size="7.5" text-anchor="middle" font-weight="normal" fill="#333" stroke="currentColor" stroke-width="0.18">6</text>
<line x1="495.37" y1="860.4" x2="495.37" y2="863.05" stroke="#444" stroke-width="1"/>
<text transform="translate(495.37 870.2) scale(1 1.22)" font-size="7.5" text-anchor="middle" font-weight="normal" fill="#333" stroke="currentColor" stroke-width="0.18">12</text>
<line x1="537.86" y1="860.4" x2="537.86" y2="863.05" stroke="#444" stroke-width="1"/>
<text transform="translate(537.86 870.2) scale(1 1.22)" font-size="7.5" text-anchor="middle" font-weight="normal" fill="#333" stroke="currentColor" stroke-width="0.18">18</text>
<line x1="580.34" y1="860.4" x2="580.34" y2="863.05" stroke="#444" stroke-width="1"/>
<text transform="translate(580.34 870.2) scale(1 1.22)" font-size="7.5" text-anchor="middle" font-weight="normal" fill="#333" stroke="currentColor" stroke-width="0.18">24</text>
<line x1="622.83" y1="860.4" x2="622.83" y2="863.05" stroke="#444" stroke-width="1"/>
<text transform="translate(622.83 870.2) scale(1 1.22)" font-size="7.5" text-anchor="middle" font-weight="normal" fill="#333" stroke="currentColor" stroke-width="0.18">30</text>
<line x1="665.32" y1="860.4" x2="665.32" y2="863.05" stroke="#444" stroke-width="1"/>
<text transform="translate(665.32 870.2) scale(1 1.22)" font-size="7.5" text-anchor="middle" font-weight="normal" fill="#333" stroke="currentColor" stroke-width="0.18">36</text>
<text x="540.5" y="881.7" font-size="10.4" text-anchor="middle" font-weight="bold" fill="#000">Time in contact (months)</text>
<path d="M410 544H453V546H495V578H580V694H665V735" stroke="#F8766D" stroke-width="1.8" fill="none" stroke-linejoin="miter"/>
<path d="M407.8 544h4.4M410 541.8v4.4" stroke="#F8766D" stroke-width="1" fill="none"/>
<path d="M662.8 735h4.4M665 732.8v4.4" stroke="#F8766D" stroke-width="1" fill="none"/>
<path d="M453 544H495V580H580V766H665V805" stroke="#A3A500" stroke-width="2" fill="none" stroke-linejoin="miter"/>
<path d="M662.8 805h4.4M665 802.8v4.4" stroke="#A3A500" stroke-width="1" fill="none"/>
<path d="M474 544H474V630H644H644V701" stroke="#00BF7D" stroke-width="1.8" fill="none" stroke-linejoin="miter"/>
<path d="M641.8 701h4.4M644 698.8v4.4" stroke="#00BF7D" stroke-width="1" fill="none"/>
<path d="M474 544H474V606H559H559V718" stroke="#00B0F6" stroke-width="1.8" fill="none" stroke-linejoin="miter"/>
<path d="M556.8 718h4.4M559 715.8v4.4" stroke="#00B0F6" stroke-width="1" fill="none"/>
<path d="M410 544H474H474V596" stroke="#E76BF3" stroke-width="1.8" fill="none" stroke-linejoin="miter"/>
<path d="M471.8 596h4.4M474 593.8v4.4" stroke="#E76BF3" stroke-width="1" fill="none"/>
<text transform="translate(415.9 775.4) scale(1 1.15)" font-size="8.4" text-anchor="start" font-weight="normal" fill="#000" stroke="currentColor" stroke-width="0.18">Strata</text>
<line x1="443.9" y1="772.3" x2="456.3" y2="772.3" stroke="#F8766D" stroke-width="2.5"/>
<line x1="446.1" y1="771.9" x2="454.1" y2="771.9" stroke="#F8766D" stroke-width="3"/>
<line x1="450.1" y1="767.8" x2="450.1" y2="774.6" stroke="#F8766D" stroke-width="1.2"/>
<text transform="translate(461.5 775.7) scale(1 1.15)" font-size="8.75" text-anchor="start" font-weight="normal" fill="#000" stroke="currentColor" stroke-width="0.18">Batch=B−0</text>
<line x1="443.9" y1="782.4" x2="456.3" y2="782.4" stroke="#A3A500" stroke-width="2.5"/>
<line x1="446.1" y1="782" x2="454.1" y2="782" stroke="#A3A500" stroke-width="3"/>
<line x1="450.1" y1="777.9" x2="450.1" y2="784.7" stroke="#A3A500" stroke-width="1.2"/>
<text transform="translate(461.5 785.8) scale(1 1.15)" font-size="8.75" text-anchor="start" font-weight="normal" fill="#000" stroke="currentColor" stroke-width="0.18">Batch=B−06</text>
<line x1="443.9" y1="792.4" x2="456.3" y2="792.4" stroke="#00BF7D" stroke-width="2.5"/>
<line x1="446.1" y1="792" x2="454.1" y2="792" stroke="#00BF7D" stroke-width="3"/>
<line x1="450.1" y1="787.9" x2="450.1" y2="794.7" stroke="#00BF7D" stroke-width="1.2"/>
<text transform="translate(461.5 795.8) scale(1 1.15)" font-size="8.75" text-anchor="start" font-weight="normal" fill="#000" stroke="currentColor" stroke-width="0.18">Batch=B−12</text>
<line x1="443.9" y1="802.4" x2="456.3" y2="802.4" stroke="#00B0F6" stroke-width="2.5"/>
<line x1="446.1" y1="802" x2="454.1" y2="802" stroke="#00B0F6" stroke-width="3"/>
<line x1="450.1" y1="797.9" x2="450.1" y2="804.7" stroke="#00B0F6" stroke-width="1.2"/>
<text transform="translate(461.5 805.8) scale(1 1.15)" font-size="8.75" text-anchor="start" font-weight="normal" fill="#000" stroke="currentColor" stroke-width="0.18">Batch=B−24</text>
<line x1="443.9" y1="812.2" x2="456.3" y2="812.2" stroke="#E76BF3" stroke-width="2.5"/>
<line x1="446.1" y1="811.8" x2="454.1" y2="811.8" stroke="#E76BF3" stroke-width="3"/>
<line x1="450.1" y1="807.7" x2="450.1" y2="814.5" stroke="#E76BF3" stroke-width="1.2"/>
<text transform="translate(461.5 815.6) scale(1 1.15)" font-size="8.75" text-anchor="start" font-weight="normal" fill="#000" stroke="currentColor" stroke-width="0.18">Batch=B−36</text>
<rect x="385" y="887.9" width="300" height="13.4" fill="#d9d9d9"/>
<rect x="385" y="901.3" width="63.1" height="69.8" fill="#d9d9d9"/>
<text x="397.7" y="898.9" font-size="11.3" text-anchor="start" font-weight="bold" fill="#000">Batch</text>
<text x="487.1" y="898.9" font-size="11.3" text-anchor="middle" font-weight="bold" fill="#000">[0-12]</text>
<text x="565.2" y="898.9" font-size="11.3" text-anchor="middle" font-weight="bold" fill="#000">(12-24]</text>
<text x="644.8" y="898.9" font-size="11.3" text-anchor="middle" font-weight="bold" fill="#000">(24-36]</text>
<text x="397.7" y="913" font-size="11.3" text-anchor="start" font-weight="bold" fill="#000">B-0</text>
<text x="487.1" y="913" font-size="11.9" text-anchor="middle" font-weight="normal" fill="#000">239(23)</text>
<text x="565.2" y="913" font-size="11.9" text-anchor="middle" font-weight="normal" fill="#000">176 (59)</text>
<text x="644.8" y="913" font-size="11.9" text-anchor="middle" font-weight="normal" fill="#000">62 (13)</text>
<text x="397.7" y="927.1" font-size="11.3" text-anchor="start" font-weight="bold" fill="#000">B-06</text>
<text x="487.1" y="927.1" font-size="11.9" text-anchor="middle" font-weight="normal" fill="#000">25 (3)</text>
<text x="565.2" y="927.1" font-size="11.9" text-anchor="middle" font-weight="normal" fill="#000">21 (14)</text>
<text x="644.8" y="927.1" font-size="11.9" text-anchor="middle" font-weight="normal" fill="#000">6 (3)</text>
<text x="397.7" y="941.1" font-size="11.3" text-anchor="start" font-weight="bold" fill="#000">B-12</text>
<text x="487.1" y="941.1" font-size="11.9" text-anchor="middle" font-weight="normal" fill="#000">14 (4)</text>
<text x="565.2" y="941.1" font-size="11.9" text-anchor="middle" font-weight="normal" fill="#000">8 (0)</text>
<text x="644.8" y="941.1" font-size="11.9" text-anchor="middle" font-weight="normal" fill="#000">6 (2)</text>
<text x="397.7" y="955.15" font-size="11.3" text-anchor="start" font-weight="bold" fill="#000">B-24</text>
<text x="487.1" y="955.15" font-size="11.9" text-anchor="middle" font-weight="normal" fill="#000">136 (28)</text>
<text x="565.2" y="955.15" font-size="11.9" text-anchor="middle" font-weight="normal" fill="#000">97.5 (41)</text>
<text x="644.8" y="955.15" font-size="11.9" text-anchor="middle" font-weight="normal" fill="#000">-</text>
<text x="397.7" y="968.95" font-size="11.3" text-anchor="start" font-weight="bold" fill="#000">B-36</text>
<text x="487.1" y="968.95" font-size="11.9" text-anchor="middle" font-weight="normal" fill="#000">163 (28)</text>
<text x="565.2" y="968.95" font-size="11.9" text-anchor="middle" font-weight="normal" fill="#000">-</text>
<text x="644.8" y="968.95" font-size="11.9" text-anchor="middle" font-weight="normal" fill="#000">-</text>
<line x1="385" y1="915.5" x2="685" y2="915.5" stroke="#8c8c8c" stroke-width="1.3"/>
<line x1="385" y1="929.5" x2="685" y2="929.5" stroke="#8c8c8c" stroke-width="1.3"/>
<line x1="385" y1="943.5" x2="685" y2="943.5" stroke="#8c8c8c" stroke-width="1.3"/>
<line x1="385" y1="957.6" x2="685" y2="957.6" stroke="#8c8c8c" stroke-width="1.3"/>
<line x1="385" y1="971.1" x2="685" y2="971.1" stroke="#8c8c8c" stroke-width="1.3"/>
<line x1="385" y1="901.3" x2="685" y2="901.3" stroke="#1a1a1a" stroke-width="2"/>
</svg>
</body></html>
